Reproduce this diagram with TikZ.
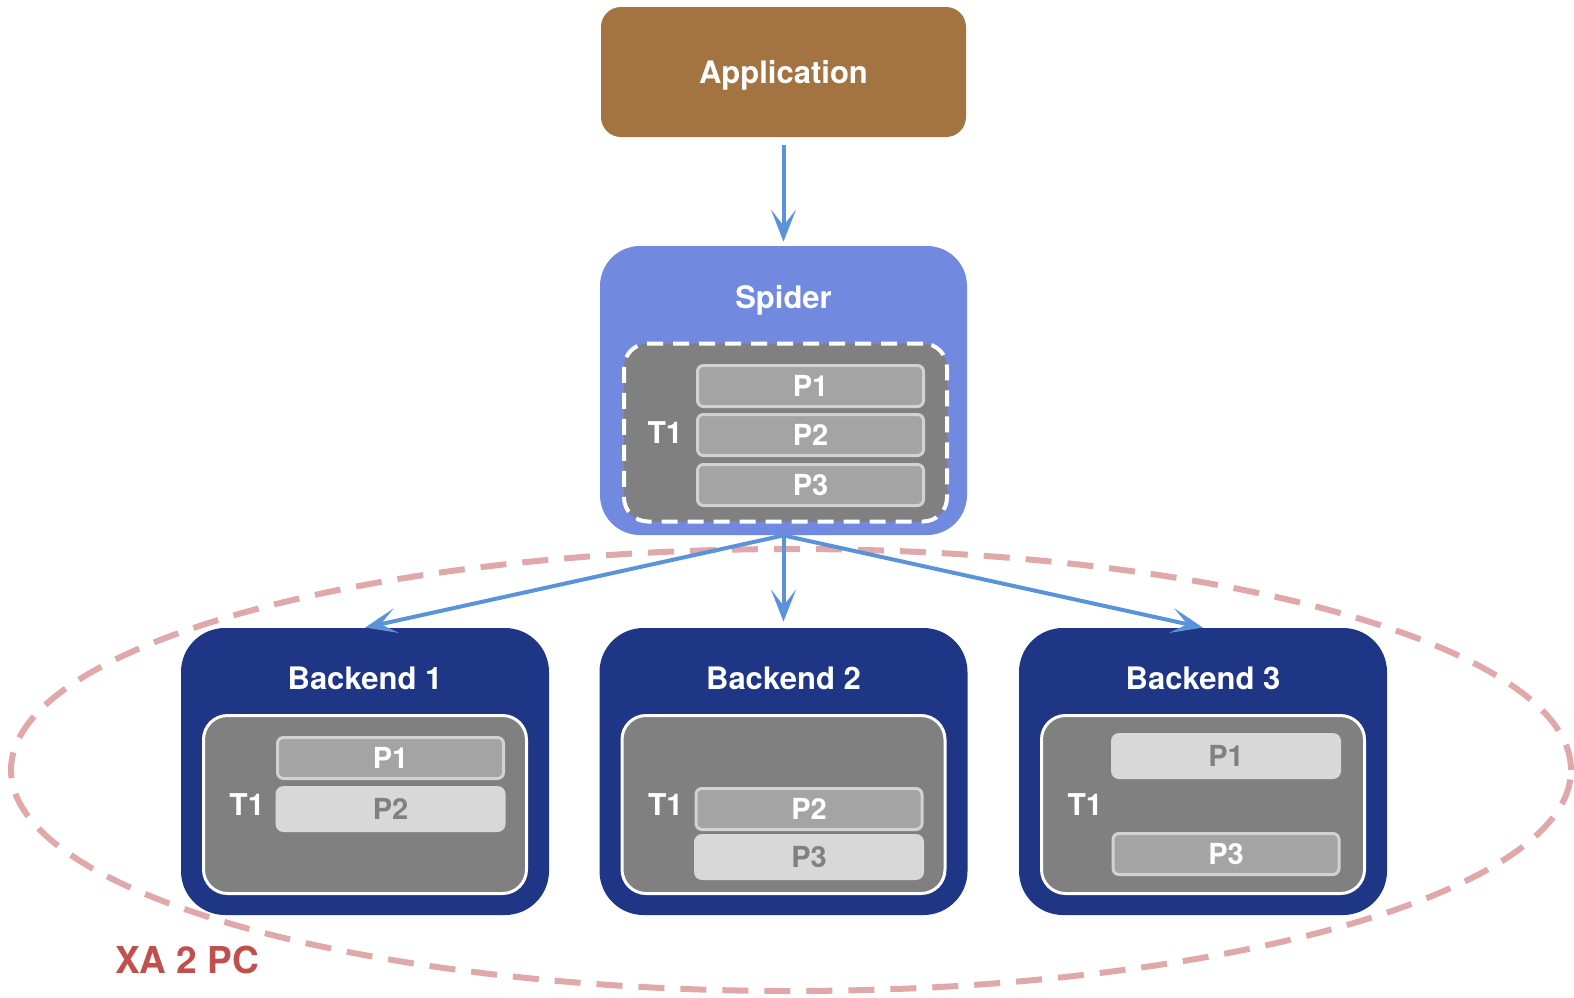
\documentclass[tikz,border=0pt]{standalone}
\usepackage{fontspec}
\setmainfont{TeX Gyre Heros}
\usepackage{xcolor}
\usetikzlibrary{positioning, arrows.meta, calc}
\definecolor{appbrown}{HTML}{A47342}
\definecolor{spiderblue}{HTML}{7189DF}
\definecolor{backnavy}{HTML}{1F3586}
\definecolor{tgray}{HTML}{808080}
\definecolor{pdark}{HTML}{A4A4A4}
\definecolor{pedge}{HTML}{D2D2D2}
\definecolor{plight}{HTML}{D8D8D8}
\definecolor{flowblue}{HTML}{5B93DB}
\definecolor{ringpink}{HTML}{E0A8A8}
\definecolor{xared}{HTML}{C0504D}

\begin{document}
\begin{tikzpicture}[x=0.5pt, y=-0.5pt, every node/.style={font=\bfseries, inner sep=0pt, text depth=0pt},
  appbox/.style={rectangle, rounded corners=10pt, fill=appbrown, minimum width=182.5pt, minimum height=65pt, text=white, font=\bfseries\fontsize{15.5}{18}\selectfont},
  spiderbox/.style={rectangle, rounded corners=20pt, fill=spiderblue, minimum width=183.5pt, minimum height=144.5pt},
  backbox/.style={rectangle, rounded corners=22pt, fill=backnavy, minimum width=184pt, minimum height=143.5pt},
  tbox/.style={rectangle, rounded corners=12pt, fill=tgray, draw=white, line width=1.5pt, minimum width=161.5pt, minimum height=89pt},
  tboxdash/.style={tbox, line width=2pt, dash pattern=on 8pt off 5pt},
  pheld/.style={rectangle, rounded corners=3pt, fill=pdark, draw=pedge, line width=1.5pt, minimum width=113pt, minimum height=20.5pt, text=white, font=\bfseries\fontsize{14.5}{17}\selectfont},
  pfree/.style={rectangle, rounded corners=4pt, fill=plight, minimum width=115pt, minimum height=23pt, text=tgray, font=\bfseries\fontsize{14.5}{17}\selectfont},
  titletext/.style={text=white, font=\bfseries\fontsize{15.5}{18}\selectfont},
  tlabel/.style={text=white, font=\bfseries\fontsize{15}{18}\selectfont},
  flow/.style={draw=flowblue, line width=2pt, -{Stealth[length=16pt, width=12.5pt, inset=8pt]}},
  xaring/.style={draw=ringpink, line width=3pt, dash pattern=on 13pt off 8pt}]
\useasboundingbox (0,0) rectangle (1574,997);
% XA 2PC boundary (behind the backends)
\draw[xaring] (791,770) ellipse [x radius=390pt, y radius=110.5pt];
\node[text=xared, font=\bfseries\fontsize{18.5}{22}\selectfont] (xalbl) at (187,960) {XA 2 PC};
% Application
\node[appbox] (app) at (783.5,72) {Application};
% Spider with T1 spanning P1..P3
\node[spiderbox] (spider) at (783.5,390.5) {};
\node[titletext] (spiderlbl) at (783.5,297) {Spider};
\node[tboxdash] (spidert) at (785.5,432.5) {};
\node[tlabel] (spidertl) at (665,433) {T1};
\node[pheld] (sp1) at (810.5,386) {P1};
\node[pheld] (sp2) at (810.5,435) {P2};
\node[pheld] (sp3) at (810.5,485) {P3};
% Backends
\foreach \i/\x in {1/365, 2/783.5, 3/1203} {
  \node[backbox] (back\i) at (\x,771.5) {};
  \node[titletext] (backlbl\i) at (\x,678) {Backend \i};
  \node[tbox] (tx\i) at (\x,804.5) {};
  \node[tlabel] (tlab\i) at (\x-118,805) {T1};
}
% Backend 1: P1 held, P2 free
\node[pheld] (b1p1) at (390.5,758) {P1};
\node[pfree] (b1p2) at (390.5,809) {P2};
% Backend 2: P2 held, P3 free
\node[pheld] (b2p2) at (809,809) {P2};
\node[pfree] (b2p3) at (809,857) {P3};
% Backend 3: P1 free, P3 held
\node[pfree] (b3p1) at (1226,756) {P1};
\node[pheld] (b3p3) at (1226,854) {P3};
% Flows
\draw[flow, shorten <=4pt, shorten >=2pt] (app) -- (spider);
\draw[flow] (spider.south) -- (back1.north);
\draw[flow, shorten >=3pt] (spider.south) -- (back2.north);
\draw[flow] (spider.south) -- (back3.north);
\end{tikzpicture}
\end{document}
